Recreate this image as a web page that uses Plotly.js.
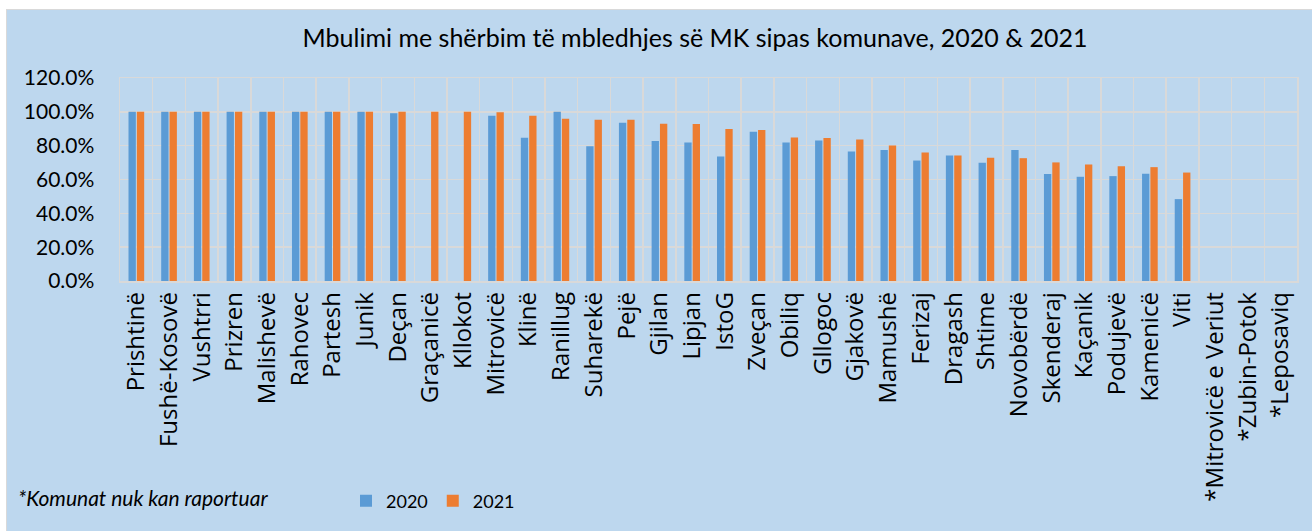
<!DOCTYPE html>
<html>
<head>
<meta charset="utf-8">
<script src="https://cdn.plot.ly/plotly-3.0.1.min.js"></script>
<style>
  html, body { margin: 0; padding: 0; background: #ffffff; width: 1312px; height: 531px; overflow: hidden; }
  #frame { position: absolute; left: 6px; top: 9px; width: 1306px; height: 522px; border-left: 1px solid #d9d9d9; border-top: 1px solid #d9d9d9; background: #BDD7EE; }
  #chart { position: absolute; left: 0; top: 0; width: 1306px; height: 522px; }
</style>
</head>
<body>
<div id="frame"><div id="chart"></div></div>
<script>
const categories = ['Prishtinë','Fushë-Kosovë','Vushtrri','Prizren','Malishevë','Rahovec','Partesh','Junik','Deçan','Graçanicë','Kllokot','Mitrovicë','Klinë','Ranillug','Suharekë','Pejë','Gjilan','Lipjan','IstoG','Zveçan','Obiliq','Gllogoc','Gjakovë','Mamushë','Ferizaj','Dragash','Shtime','Novobërdë','Skenderaj','Kaçanik','Podujevë','Kamenicë','Viti','*Mitrovicë e Veriut','*Zubin-Potok','*Leposaviq'];
const values2020 = [100,100,100,100,100,100,100,100,99.1,null,null,97.7,84.7,100,79.7,93.5,82.7,81.9,73.6,88.2,81.9,83.1,76.6,77.4,71.2,74.2,69.9,77.4,63.2,61.6,62.0,63.4,48.4,null,null,null];
const values2021 = [100,100,100,100,100,100,100,100,100,100,100,99.7,97.7,95.9,95.3,95.3,93.0,92.8,89.8,89.2,84.9,84.5,83.7,80.1,76.0,74.2,72.8,72.6,70.1,68.9,67.9,67.3,64.1,null,null,null];
const seriesNames = ['2020','2021'];
const yTickValues = [0,20,40,60,80,100,120];
const titleText = 'Mbulimi me shërbim të mbledhjes së MK sipas komunave, 2020 & 2021';
const noteText = '<i>*Komunat nuk kan raportuar</i>';

const traces = [
  {type:'bar', name:seriesNames[0], x:categories, y:values2020, marker:{color:'#5B9BD5'}, hoverinfo:'x+y'},
  {type:'bar', name:seriesNames[1], x:categories, y:values2021, marker:{color:'#ED7D31'}, hoverinfo:'x+y'}
];

const layout = {
  width:1306, height:522,
  paper_bgcolor:'#BDD7EE', plot_bgcolor:'#BDD7EE',
  margin:{l:113, r:16, t:68, b:251, pad:0},
  barmode:'group', bargap:0.49, bargroupgap:0.12,
  title:{text:titleText, x:(694-119)/1177, xanchor:'center', xref:'paper', y:1-28/522, yref:'container', yanchor:'middle',
         font:{family:'Lato, sans-serif', size:25, color:'#000000'}},
  xaxis:{type:'category', tickson:'boundaries', showgrid:true, gridcolor:'#D9D9D9', gridwidth:1.5,
         showline:true, linecolor:'#D9D9D9', linewidth:1.5, mirror:true,
         ticks:'outside', ticklen:22, tickcolor:'rgba(0,0,0,0)', tickangle:-90,
         tickfont:{family:'Open Sans', size:24, color:'#000000'}},
  yaxis:{range:[0,120], tickvals:yTickValues, ticktext:yTickValues.map(v=>v.toFixed(1)+'%'),
         showgrid:true, gridcolor:'#D9D9D9', gridwidth:1.5, zeroline:false,
         showline:true, linecolor:'#D9D9D9', linewidth:1.5, mirror:true,
         ticks:'outside', ticklen:20, tickcolor:'rgba(0,0,0,0)',
         tickfont:{family:'Lato, sans-serif', size:21, color:'#000000'}},
  showlegend:true,
  legend:{orientation:'h', x:(432-119)/1177, xanchor:'center', y:(280-500)/203, yanchor:'middle',
          bgcolor:'rgba(0,0,0,0)', font:{family:'Lato, sans-serif', size:18, color:'#000000'},
          itemwidth:30, traceorder:'normal'},
  annotations:[{text:noteText, xref:'paper', yref:'paper', x:(15-119)/1177, y:(280-496)/203,
                xanchor:'left', yanchor:'middle', showarrow:false,
                font:{family:'Lato, sans-serif', size:21, color:'#000000'}}]
};

Plotly.newPlot('chart', traces, layout, {displayModeBar:false, staticPlot:true});
</script>
</body>
</html>
